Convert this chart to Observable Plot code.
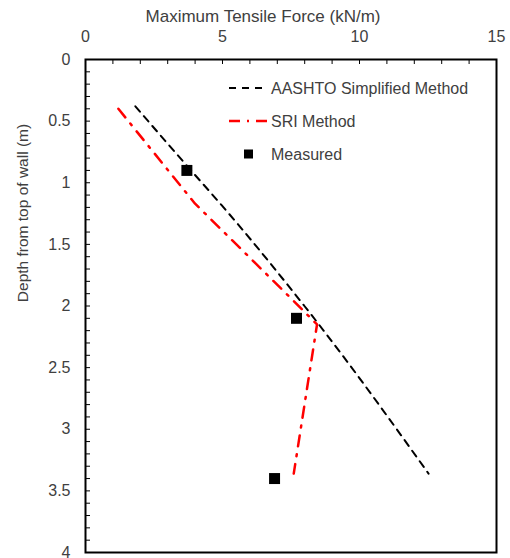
<!DOCTYPE html>
<html><head><meta charset="utf-8">
<script src="https://cdn.jsdelivr.net/npm/d3@7"></script>
<script src="https://cdn.jsdelivr.net/npm/@observablehq/plot@0.6"></script>
<style>body{margin:0;background:#fff;font-family:Arial,"Liberation Sans",sans-serif;}</style>
</head><body><div id="chart"></div>
<script>
// Data
const aashtoForce = [1.82, 3.85, 4.96, 7.99, 12.52];
const aashtoDepth = [0.38, 0.9, 1.18, 2.0, 3.36];
const sriForce = [1.2, 4.0, 7.6, 8.45, 7.6];
const sriDepth = [0.4, 1.17, 1.96, 2.15, 3.36];
const measuredForce = [3.7, 7.7, 6.9];
const measuredDepth = [0.9, 2.1, 3.4];
const xTicks = [0, 5, 10, 15];
const xMinorTicks = d3.range(0, 16, 1);
const yTicks = [0, 0.5, 1, 1.5, 2, 2.5, 3, 3.5, 4];
const yMinorTicks = d3.range(0, 41).map(i => i / 10);
const seriesNames = ["AASHTO Simplified Method", "SRI Method", "Measured"];
const xTitle = "Maximum Tensile Force (kN/m)";
const yTitle = "Depth from top of wall (m)";

const aashto = aashtoForce.map((f, i) => ({force: f, depth: aashtoDepth[i]}));
const sri = sriForce.map((f, i) => ({force: f, depth: sriDepth[i]}));
const measured = measuredForce.map((f, i) => ({force: f, depth: measuredDepth[i]}));

const textColor = "#404040";
const blackDash = "7,6";
const redDash = "11,8,2,8";

function legend(index, scales, values, dims) {
  const g = d3.create("svg:g")
    .attr("font-family", "Arial, 'Liberation Sans', sans-serif")
    .attr("font-size", 16)
    .attr("text-anchor", "start")
    .attr("fill", textColor);
  const x0 = dims.marginLeft + 144, x1 = dims.marginLeft + 183, tx = dims.marginLeft + 186;
  const ys = [dims.marginTop + 29, dims.marginTop + 62, dims.marginTop + 95];
  g.append("line").attr("x1", x0).attr("x2", x1).attr("y1", ys[0]).attr("y2", ys[0])
    .attr("stroke", "black").attr("stroke-width", 2).attr("stroke-dasharray", blackDash);
  g.append("line").attr("x1", x0).attr("x2", x1).attr("y1", ys[1]).attr("y2", ys[1])
    .attr("stroke", "red").attr("stroke-width", 2.5).attr("stroke-dasharray", "11,7,2,7");
  g.append("rect").attr("x", (x0 + x1) / 2 - 4.5).attr("y", ys[2] - 4.5).attr("width", 9).attr("height", 9).attr("fill", "black");
  seriesNames.forEach((n, i) => {
    g.append("text").attr("x", tx).attr("y", ys[i]).attr("dy", "0.35em").attr("text-anchor", "start").text(n);
  });
  return g.node();
}

const chart = Plot.plot({
  width: 510,
  height: 558,
  marginLeft: 85,
  marginRight: 14,
  marginTop: 59,
  marginBottom: 6,
  style: {fontFamily: "Arial, 'Liberation Sans', sans-serif", fontSize: "16px", color: textColor, background: "white"},
  x: {domain: [0, 15]},
  y: {domain: [0, 4], reverse: true},
  marks: [
    Plot.axisX({anchor: "top", ticks: xMinorTicks, tickSize: -4, tickFormat: () => "", label: null, stroke: "black"}),
    Plot.axisX({anchor: "top", ticks: xTicks, tickSize: 0, tickPadding: 18, label: null, fill: textColor, fontSize: 16}),
    Plot.axisY({anchor: "left", ticks: yMinorTicks, tickSize: -5, tickFormat: () => "", label: null, stroke: "black"}),
    Plot.axisY({anchor: "left", ticks: yTicks, tickSize: 0, tickPadding: 15, label: null, fill: textColor, fontSize: 16, tickFormat: d => String(d)}),
    Plot.line(aashto, {x: "force", y: "depth", stroke: "black", strokeWidth: 2, strokeDasharray: blackDash, curve: "monotone-y"}),
    Plot.line(sri, {x: "force", y: "depth", stroke: "red", strokeWidth: 2.5, strokeDasharray: redDash}),
    Plot.dot(measured, {x: "force", y: "depth", symbol: "square", r: 6.2, fill: "black", stroke: null}),
    Plot.frame({stroke: "black", strokeWidth: 2}),
    Plot.text([xTitle], {text: d => d, frameAnchor: "top", textAnchor: "middle", dy: -50, dx: -28, fontSize: 17, fill: textColor}),
    Plot.text([yTitle], {text: d => d, frameAnchor: "left", textAnchor: "middle", rotate: -90, dx: -62, dy: -93, fontSize: 15.5, fill: textColor}),
    legend
  ]
});
document.getElementById("chart").appendChild(chart);
</script>
</body></html>
